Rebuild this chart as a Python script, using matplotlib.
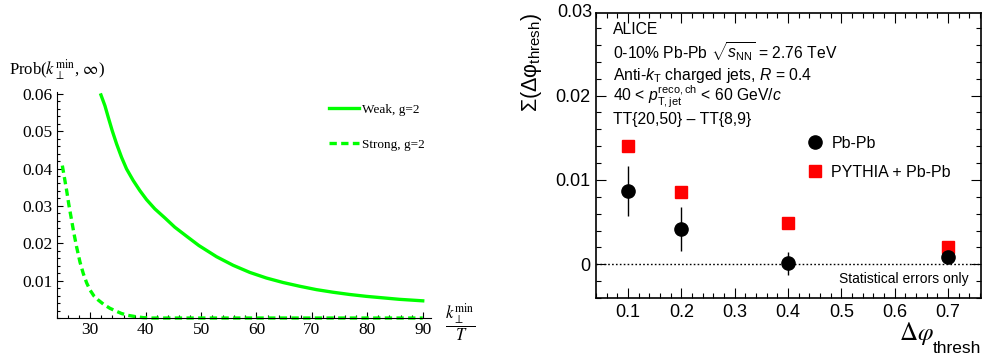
import matplotlib
matplotlib.use("Agg")
import matplotlib.pyplot as plt
from matplotlib.ticker import MultipleLocator, FixedLocator

plt.rcParams['mathtext.fontset'] = 'custom'
plt.rcParams['mathtext.rm'] = 'Liberation Sans'
plt.rcParams['mathtext.it'] = 'Liberation Sans:italic'
plt.rcParams['mathtext.bf'] = 'Liberation Sans:bold'

# left panel: curves
weak_x = [31.93, 32.65, 33.25, 33.97, 34.75, 35.65, 36.55, 37.75, 38.95, 40.15, 41.66,
          43.46, 45.26, 47.37, 49.6, 52.8, 55.8, 58.8, 61.8, 64.8, 67.8, 70.8, 73.8,
          76.8, 79.8, 82.8, 85.8, 90.0]
weak_y = [0.0597, 0.0568, 0.0537, 0.0501, 0.0466, 0.0430, 0.0399, 0.0368, 0.0341, 0.0317,
          0.0292, 0.0268, 0.0243, 0.0219, 0.0194, 0.0164, 0.0141, 0.0122, 0.0107, 0.0095,
          0.0085, 0.0076, 0.0069, 0.0063, 0.0058, 0.0054, 0.0050, 0.0046]
strong_x = [24.96, 25.32, 25.74, 26.16, 26.64, 27.06, 27.54, 28.14, 28.74, 29.35, 29.95,
            30.67, 31.45, 32.47, 33.55, 34.57, 35.65, 36.85, 38.05, 39.55, 41.06, 60.0,
            90.0]
strong_y = [0.0408, 0.0377, 0.0341, 0.0301, 0.0261, 0.0226, 0.0190, 0.0150, 0.0119, 0.0094,
            0.0075, 0.0059, 0.0048, 0.0036, 0.0026, 0.0019, 0.0012, 0.0007, 0.0004, 0.0001,
            0.0, 0.0, 0.0]

# right panel: ALICE points
dphi = [0.1, 0.2, 0.4, 0.7]
pbpb = [0.0087, 0.0042, 0.0001, 0.0009]
pbpb_err = [0.0030, 0.0026, 0.0014, 0.0003]
pythia = [0.0140, 0.0086, 0.0049, 0.0021]
pythia_err = [0.0006, 0.0005, 0.0004, 0.0003]

fig = plt.figure(figsize=(9.83, 3.56), dpi=100)

# ---------- left: Mathematica style ----------
ax1 = fig.add_axes([0.058, 0.1067, 0.3805, 0.635])
green = '#00ff00'
ax1.plot(weak_x, weak_y, color=green, lw=2.4, label='Weak, g=2', clip_on=False)
ax1.plot(strong_x, strong_y, color=green, lw=2.4, dashes=(2.2, 1.3),
         label='Strong, g=2', clip_on=False)
ax1.set_xlim(24, 91.5)
ax1.set_ylim(0, 0.0605)
ax1.spines['top'].set_visible(False)
ax1.spines['right'].set_visible(False)
ax1.xaxis.set_major_locator(FixedLocator([30, 40, 50, 60, 70, 80, 90]))
ax1.xaxis.set_minor_locator(MultipleLocator(2))
ax1.yaxis.set_major_locator(FixedLocator([0.01, 0.02, 0.03, 0.04, 0.05, 0.06]))
ax1.yaxis.set_minor_locator(MultipleLocator(0.002))
ax1.tick_params(which='both', direction='in', width=0.8, labelsize=12.5, pad=3)
ax1.tick_params(which='major', length=4)
ax1.tick_params(which='minor', length=2.2)
for lab in ax1.get_xticklabels() + ax1.get_yticklabels():
    lab.set_fontfamily('Liberation Serif')
ax1.annotate(r'Prob($k_{\perp}^{\rm min}$, $\infty$)', xy=(0.0, 1.1), xycoords='axes fraction',
             ha='center', va='center', fontsize=12, family='Liberation Serif',
             math_fontfamily='stix')
ax1.annotate(r'$\dfrac{k_{\perp}^{\rm min}}{T}$', xy=(1.078, -0.02), xycoords='axes fraction',
             ha='center', va='center', fontsize=12, family='Liberation Serif',
             math_fontfamily='stix', annotation_clip=False)
ax1.legend(loc='upper left', bbox_to_anchor=(0.695, 1.0), frameon=False,
           prop={'family': 'Liberation Serif', 'size': 9.5},
           handlelength=2.3, handletextpad=0.25, labelspacing=1.7)

# ---------- right: ROOT style ----------
ax2 = fig.add_axes([0.6063, 0.163, 0.3917, 0.8005])
ax2.axhline(0, color='k', ls=(0, (1.2, 1.6)), lw=1.0)
ax2.errorbar(dphi, pbpb, yerr=pbpb_err, fmt='none', ecolor='k', elinewidth=1.0,
             capsize=0, zorder=3)
ax2.plot(dphi, pbpb, 'o', color='k', ms=9.5, label='Pb-Pb', zorder=4)
ax2.errorbar(dphi, pythia, yerr=pythia_err, fmt='none', ecolor='#ff0000',
             elinewidth=1.0, capsize=0, zorder=2)
ax2.plot(dphi, pythia, 's', color='#ff0000', ms=8.5, label='PYTHIA + Pb-Pb', zorder=2)
ax2.set_xlim(0.04, 0.762)
ax2.set_ylim(-0.004, 0.0298)
ax2.xaxis.set_minor_locator(MultipleLocator(0.02))
ax2.yaxis.set_minor_locator(MultipleLocator(0.002))
ax2.set_xticks([0.1, 0.2, 0.3, 0.4, 0.5, 0.6, 0.7])
ax2.set_xticklabels(['0.1', '0.2', '0.3', '0.4', '0.5', '0.6', '0.7'])
ax2.set_yticks([0, 0.01, 0.02])
ax2.set_yticklabels(['0', '0.01', '0.02'])
ax2.tick_params(which='both', direction='in', top=True, right=True, width=0.8,
                labelsize=13, pad=4)
ax2.tick_params(which='major', length=7)
ax2.tick_params(which='minor', length=3.5)
for lab in ax2.get_xticklabels() + ax2.get_yticklabels():
    lab.set_fontfamily('Liberation Sans')
for sp in ax2.spines.values():
    sp.set_linewidth(1.2)
ax2.text(-0.01, 1.0, '0.03', transform=ax2.transAxes, ha='right', va='center',
         fontsize=13, family='Liberation Sans')

# x title: serif Delta-phi with a sans "thresh" subscript
ax2.text(1.0, -0.193, 'thresh', transform=ax2.transAxes, ha='right', va='baseline',
         fontsize=12.5, family='Liberation Sans')
ax2.text(0.877, -0.148, r'$\Delta\varphi$', transform=ax2.transAxes, ha='right',
         va='baseline', fontsize=18, math_fontfamily='stix')
ax2.set_ylabel(r'$\Sigma(\Delta\mathrm{\varphi}_{\rm thresh})$', fontsize=15.5, loc='top',
               labelpad=8)

lines = ['ALICE',
         r'0-10% Pb-Pb $\sqrt{s_{\rm NN}}$ = 2.76 TeV',
         r'Anti-$k_{\rm T}$ charged jets, $R$ = 0.4',
         r'40 < $p_{\rm T,jet}^{\rm reco,ch}$ < 60 GeV/$c$',
         'TT{20,50} \u2013 TT{8,9}']
ys = [0.942, 0.864, 0.782, 0.705, 0.628]
for t, yy in zip(lines, ys):
    ax2.text(0.045, yy, t, transform=ax2.transAxes, fontsize=11.3,
             family='Liberation Sans', va='center')
ax2.text(0.968, 0.067, 'Statistical errors only', transform=ax2.transAxes, ha='right',
         va='center', fontsize=10, family='Liberation Sans')
ax2.legend(loc='upper left', bbox_to_anchor=(0.512, 0.62), frameon=False, numpoints=1,
           prop={'family': 'Liberation Sans', 'size': 11.5}, handlelength=1.0,
           handletextpad=0.5, labelspacing=0.9)

fig.savefig('out.png', dpi=100)
